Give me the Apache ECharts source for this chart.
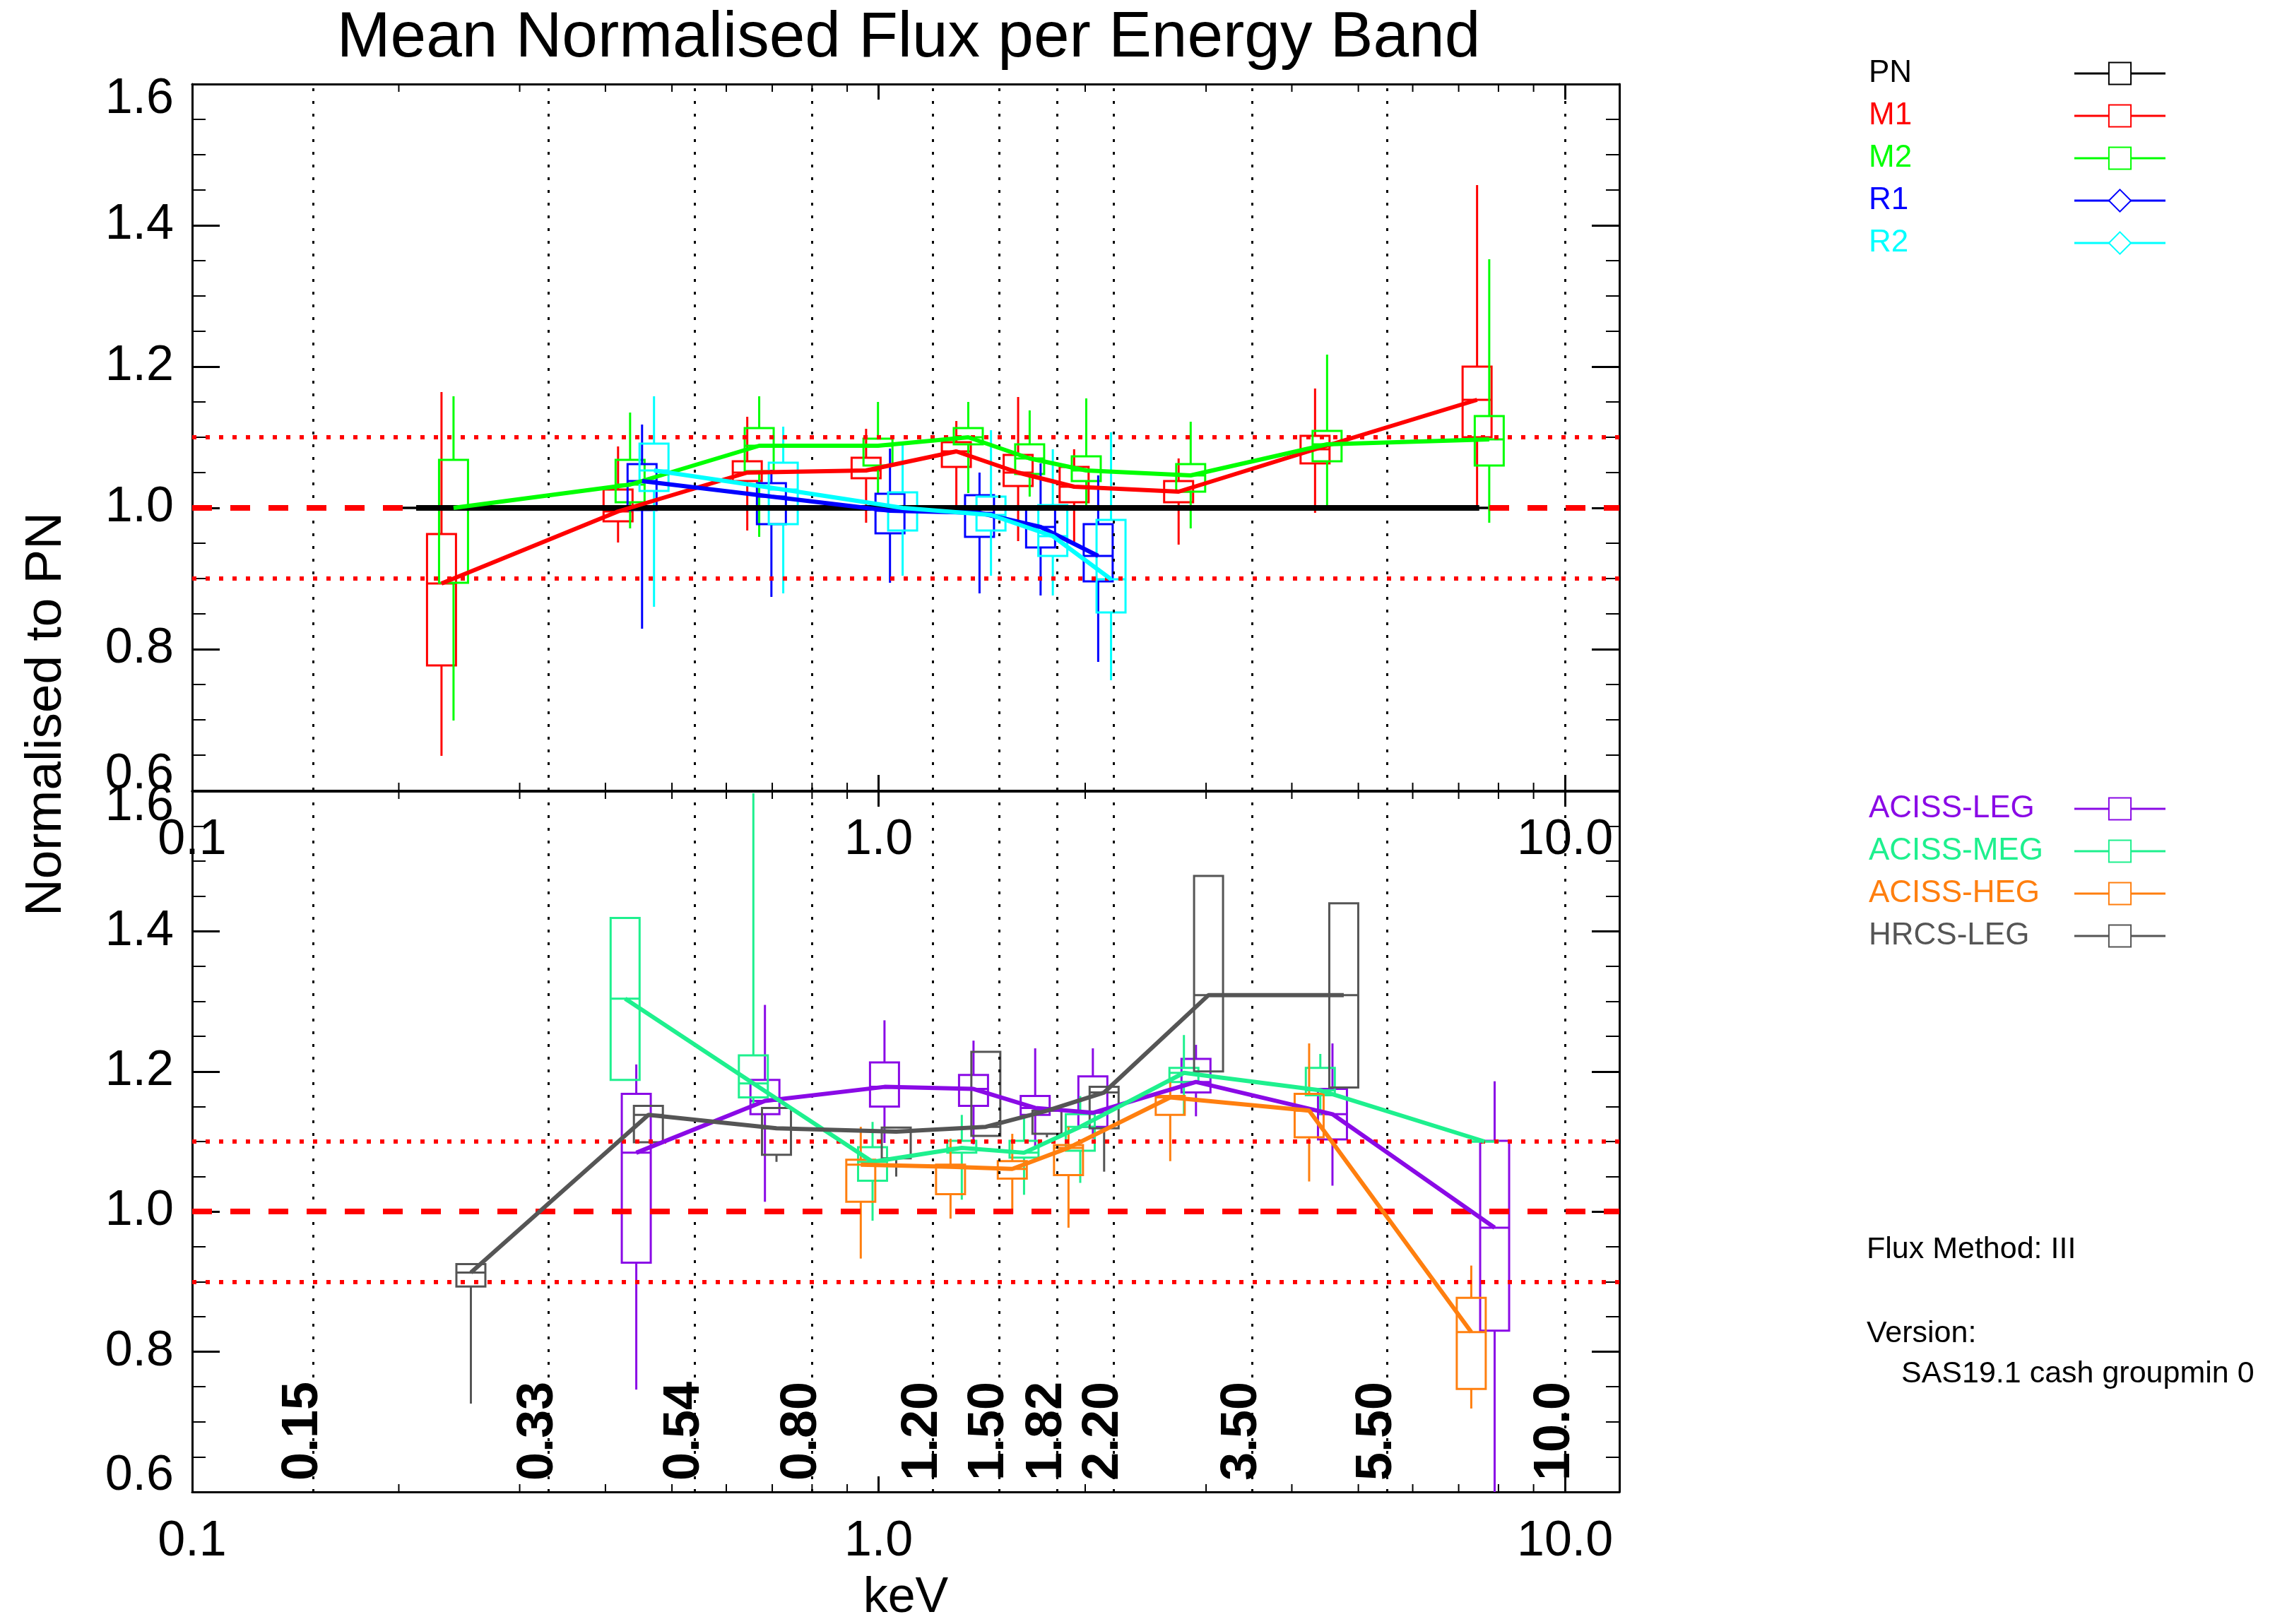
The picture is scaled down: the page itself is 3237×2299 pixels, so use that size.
<!DOCTYPE html>
<html><head><meta charset="utf-8">
<script src="https://cdn.jsdelivr.net/npm/echarts@6/dist/echarts.min.js"></script>
<style>html,body{margin:0;padding:0;background:#fff}#c{width:3237px;height:2299px}</style>
</head><body><div id="c"></div>
<script>
const FONT = '"Liberation Sans", Arial, Helvetica, sans-serif';

// ---- axis / band definitions ----
const bandEdges  = [0.15, 0.33, 0.54, 0.80, 1.20, 1.50, 1.82, 2.20, 3.50, 5.50, 10.0];
const bandLabels = ['0.15','0.33','0.54','0.80','1.20','1.50','1.82','2.20','3.50','5.50','10.0'];
const minorTicks = [0.2,0.3,0.4,0.5,0.6,0.7,0.8,0.9,2,3,4,5,6,7,8,9];
const refLevel = 1.0;
const tolLevels = [1.1, 0.9];

// ---- top panel (XMM) ----
const PN_x   = [0.212, 0.383, 0.591, 0.880, 1.192, 1.466, 1.769, 2.512, 3.970, 7.50];
const PN_med = [1.0, 1.0, 1.0, 1.0, 1.0, 1.0, 1.0, 1.0, 1.0, 1.0];

const M1_x   = [0.2308, 0.4173, 0.6437, 0.959, 1.298, 1.597, 1.927, 2.736, 4.324, 7.446];
const M1_lo  = [0.649, 0.951, 0.968, 0.979, 1.003, 0.953, 0.949, 0.948, 0.993, 1.000];
const M1_q1  = [0.777, 0.981, 1.038, 1.042, 1.058, 1.031, 1.008, 1.008, 1.063, 1.100];
const M1_med = [0.893, 0.995, 1.050, 1.053, 1.080, 1.050, 1.030, 1.023, 1.083, 1.153];
const M1_q3  = [0.963, 1.026, 1.066, 1.071, 1.093, 1.075, 1.058, 1.038, 1.102, 1.200];
const M1_hi  = [1.164, 1.087, 1.129, 1.112, 1.123, 1.157, 1.083, 1.070, 1.169, 1.457];

const M2_x   = [0.2403, 0.4345, 0.670, 0.998, 1.351, 1.660, 2.007, 2.849, 4.502, 7.756];
const M2_lo  = [0.699, 0.971, 0.959, 1.020, 1.021, 1.016, 0.996, 0.971, 1.003, 0.979];
const M2_q1  = [0.894, 1.008, 1.052, 1.060, 1.090, 1.048, 1.038, 1.023, 1.066, 1.060];
const M2_med = [1.000, 1.033, 1.088, 1.088, 1.100, 1.070, 1.053, 1.046, 1.090, 1.097];
const M2_q3  = [1.068, 1.068, 1.113, 1.098, 1.113, 1.090, 1.073, 1.062, 1.109, 1.130];
const M2_hi  = [1.158, 1.135, 1.158, 1.150, 1.150, 1.138, 1.155, 1.122, 1.217, 1.352];

const R1_x   = [0.4523, 0.698, 1.039, 1.403, 1.722, 2.089];
const R1_lo  = [0.829, 0.874, 0.894, 0.879, 0.876, 0.782];
const R1_q1  = [0.997, 0.977, 0.964, 0.959, 0.944, 0.896];
const R1_med = [1.038, 1.016, 0.996, 0.993, 0.973, 0.932];
const R1_q3  = [1.062, 1.035, 1.020, 1.018, 1.000, 0.977];
const R1_hi  = [1.118, 1.054, 1.084, 1.050, 1.063, 1.046];

const R2_x   = [0.4708, 0.7263, 1.084, 1.458, 1.794, 2.181];
const R2_lo  = [0.860, 0.879, 0.904, 0.904, 0.876, 0.756];
const R2_q1  = [1.024, 0.977, 0.968, 0.968, 0.932, 0.852];
const R2_med = [1.053, 1.026, 1.000, 0.990, 0.960, 0.899];
const R2_q3  = [1.091, 1.064, 1.022, 1.016, 1.004, 0.983];
const R2_hi  = [1.158, 1.115, 1.091, 1.110, 1.083, 1.107];

// ---- bottom panel (Chandra) ----
const LEG_x   = [0.4436, 0.683, 1.020, 1.375, 1.691, 2.052, 2.900, 4.584, 7.898];
const LEG_lo  = [0.746, 1.014, 1.098, 1.096, 1.091, 1.104, 1.136, 1.037, 0.600];
const LEG_q1  = [0.927, 1.139, 1.150, 1.151, 1.138, 1.121, 1.170, 1.103, 0.830];
const LEG_med = [1.084, 1.158, 1.178, 1.175, 1.148, 1.141, 1.185, 1.139, 0.977];
const LEG_q3  = [1.168, 1.188, 1.213, 1.195, 1.165, 1.193, 1.218, 1.175, 1.101];
const LEG_hi  = [1.210, 1.295, 1.273, 1.244, 1.233, 1.233, 1.238, 1.240, 1.186];

const MEG_x   = [0.4273, 0.657, 0.980, 1.322, 1.629, 1.967, 2.785, 4.401, 7.636];
const MEG_lo  = [1.188, 1.151, 0.987, 1.017, 1.024, 1.041, 1.138, 1.138, 1.100];
const MEG_q1  = [1.188, 1.163, 1.044, 1.084, 1.077, 1.087, 1.185, 1.166, 1.100];
const MEG_med = [1.304, 1.183, 1.071, 1.091, 1.084, 1.121, 1.198, 1.173, 1.100];
const MEG_q3  = [1.419, 1.223, 1.092, 1.101, 1.101, 1.139, 1.205, 1.205, 1.100];
const MEG_hi  = [1.419, 1.597, 1.128, 1.138, 1.138, 1.165, 1.252, 1.225, 1.100];

const HEG_x   = [0.942, 1.273, 1.566, 1.891, 2.660, 4.239, 7.302];
const HEG_lo  = [0.933, 0.990, 0.997, 0.977, 1.072, 1.043, 0.719];
const HEG_q1  = [1.014, 1.025, 1.047, 1.052, 1.138, 1.106, 0.747];
const HEG_med = [1.067, 1.064, 1.061, 1.091, 1.163, 1.144, 0.828];
const HEG_q3  = [1.074, 1.067, 1.072, 1.095, 1.165, 1.168, 0.877];
const HEG_hi  = [1.121, 1.104, 1.111, 1.121, 1.191, 1.240, 0.923];

const HRC_x   = [0.2547, 0.462, 0.710, 1.061, 1.433, 1.759, 2.131, 3.025, 4.761];
const HRC_lo  = [0.726, 1.099, 1.071, 1.050, 1.108, 1.106, 1.057, 1.200, 1.177];
const HRC_q1  = [0.893, 1.099, 1.081, 1.076, 1.108, 1.111, 1.119, 1.200, 1.177];
const HRC_med = [0.913, 1.138, 1.119, 1.114, 1.121, 1.144, 1.170, 1.309, 1.309];
const HRC_q3  = [0.925, 1.151, 1.148, 1.120, 1.228, 1.144, 1.178, 1.479, 1.440];
const HRC_hi  = [0.925, 1.151, 1.148, 1.120, 1.228, 1.144, 1.178, 1.479, 1.440];

const topNames  = ['PN', 'M1', 'M2', 'R1', 'R2'];
const topColors = ['#000000', '#ff0000', '#00ff00', '#0000ff', '#00ffff'];
const botNames  = ['ACISS-LEG', 'ACISS-MEG', 'ACISS-HEG', 'HRCS-LEG'];
const botColors = ['#8a0ae6', '#1ef08e', '#ff7f0f', '#555555'];

// ---------------------------------------------------------
function lineSeries(name, xs, meds, color, width, symbol, g) {
  return {
    type: 'line', name: name, xAxisIndex: 2 * g, yAxisIndex: 2 * g,
    data: xs.map((x, i) => [x, meds[i]]),
    symbol: symbol, symbolSize: 20, showSymbol: false, silent: true, animation: false,
    lineStyle: { color: color, width: width }, itemStyle: { color: color }, z: 5
  };
}
function boxSeries(name, xs, lo, q1, med, q3, hi, color, g) {
  return {
    type: 'custom', name: name + ' box', xAxisIndex: 2 * g, yAxisIndex: 2 * g,
    silent: true, animation: false, z: 4,
    data: xs.map((x, i) => [x, lo[i], q1[i], med[i], q3[i], hi[i]]),
    encode: { x: 0, y: [1, 2, 3, 4, 5] },
    renderItem: function (params, api) {
      const x = api.value(0);
      const pl = api.coord([x, api.value(1)]);
      const p1 = api.coord([x, api.value(2)]);
      const pm = api.coord([x, api.value(3)]);
      const p3 = api.coord([x, api.value(4)]);
      const ph = api.coord([x, api.value(5)]);
      const cx = pm[0], hw = 20.5;
      const st = { stroke: color, lineWidth: 3, fill: 'none' };
      return { type: 'group', children: [
        { type: 'line', shape: { x1: cx, y1: pl[1], x2: cx, y2: p1[1] }, style: st },
        { type: 'line', shape: { x1: cx, y1: p3[1], x2: cx, y2: ph[1] }, style: st },
        { type: 'rect', shape: { x: cx - hw, y: p3[1], width: 2 * hw, height: p1[1] - p3[1] }, style: st },
        { type: 'line', shape: { x1: cx - hw, y1: pm[1], x2: cx + hw, y2: pm[1] }, style: st }
      ]};
    }
  };
}
function refSeries(g) {
  const d = bandEdges.map(e => ({ xAxis: e, lineStyle: { color: '#000', width: 3, type: [4, 14] } }));
  d.push({ yAxis: refLevel, lineStyle: { color: '#ff0000', width: 8, type: [28, 26] } });
  tolLevels.forEach(t => d.push({ yAxis: t, lineStyle: { color: '#ff0000', width: 6, type: [6, 13] } }));
  return {
    type: 'line', name: 'refs' + g, xAxisIndex: 2 * g, yAxisIndex: 2 * g, data: [],
    silent: true, animation: false, z: 2,
    markLine: { silent: true, animation: false, symbol: ['none', 'none'], label: { show: false }, data: d }
  };
}
function minorTickSeries(g) {
  return {
    type: 'custom', name: 'minor' + g, xAxisIndex: 2 * g, yAxisIndex: 2 * g,
    silent: true, animation: false, z: 6,
    data: minorTicks.map(v => [v, 1]),
    renderItem: function (params, api) {
      const cs = params.coordSys;
      const x = api.coord([api.value(0), 1])[0];
      const b = cs.y + cs.height, t = cs.y;
      const st = { stroke: '#000', lineWidth: 2 };
      return { type: 'group', children: [
        { type: 'line', shape: { x1: x, y1: b, x2: x, y2: b - 11 }, style: st },
        { type: 'line', shape: { x1: x, y1: t, x2: x, y2: t + 11 }, style: st }
      ]};
    }
  };
}
function bandLabelSeries(g) {
  return {
    type: 'custom', name: 'bandlabels', xAxisIndex: 2 * g, yAxisIndex: 2 * g,
    silent: true, animation: false, z: 6,
    data: bandEdges.map(v => [v, 1]),
    renderItem: function (params, api) {
      const cs = params.coordSys;
      const x = api.coord([api.value(0), 1])[0];
      const b = cs.y + cs.height;
      return { type: 'text', x: x - 14, y: b - 16, rotation: Math.PI / 2,
        style: { text: bandLabels[params.dataIndex], fill: '#000', align: 'left', verticalAlign: 'middle',
          font: 'bold 72px ' + FONT } };
    }
  };
}
function xAx(g, pos, showLabel, name) {
  const a = {
    type: 'log', logBase: 10, gridIndex: g, position: pos, min: 0.1, max: 12,
    axisLine: { show: true, onZero: false, lineStyle: { color: '#000', width: 3 } },
    axisTick: { show: true, inside: true, length: 22, lineStyle: { color: '#000', width: 3 } },
    splitLine: { show: false }, minorTick: { show: false },
    axisLabel: { show: showLabel, margin: 36, fontSize: 70, color: '#000', fontFamily: FONT,
      formatter: function (v) { const l = Math.log10(v); return Math.abs(l - Math.round(l)) < 1e-6 ? Number(v).toFixed(1) : ''; } }
  };
  if (name) {
    a.name = name; a.nameLocation = 'middle'; a.nameGap = 116;
    a.nameTextStyle = { fontSize: 70, color: '#000', fontFamily: FONT };
  }
  return a;
}
function yAx(g, pos, showLabel) {
  return {
    type: 'value', gridIndex: g, position: pos, min: 0.6, max: 1.6, interval: 0.2,
    axisLine: { show: true, lineStyle: { color: '#000', width: 3 } },
    axisTick: { show: true, inside: true, length: 39, lineStyle: { color: '#000', width: 3 } },
    minorTick: { show: true, splitNumber: 4, length: 19, lineStyle: { color: '#000', width: 2 } },
    splitLine: { show: false }, minorSplitLine: { show: false },
    axisLabel: { show: showLabel, margin: 26, fontSize: 70, color: '#000', fontFamily: FONT,
      lineHeight: 44, verticalAlignMinLabel: 'bottom', verticalAlignMaxLabel: 'top',
      formatter: v => Number(v).toFixed(1) }
  };
}
function legendCfg(names, colors, top) {
  return {
    orient: 'vertical', left: 2640, top: top, itemWidth: 129, itemHeight: 39, itemGap: 16,
    align: 'right', selectedMode: false,
    data: names.map((n, i) => ({ name: n, textStyle: { color: colors[i] } })),
    formatter: n => '{a|' + n + '}',
    textStyle: { fontSize: 44, fontFamily: FONT, lineHeight: 39,
      rich: { a: { width: 286, align: 'left', fontSize: 44, fontFamily: FONT, lineHeight: 39 } } },
    lineStyle: { width: 3 }
  };
}

const series = [
  refSeries(0), refSeries(1), minorTickSeries(0), minorTickSeries(1), bandLabelSeries(1),
  lineSeries('PN', PN_x, PN_med, topColors[0], 8, 'emptyRect', 0),
  lineSeries('M1', M1_x, M1_med, topColors[1], 6, 'emptyRect', 0),
  lineSeries('M2', M2_x, M2_med, topColors[2], 6, 'emptyRect', 0),
  lineSeries('R1', R1_x, R1_med, topColors[3], 6, 'emptyDiamond', 0),
  lineSeries('R2', R2_x, R2_med, topColors[4], 6, 'emptyDiamond', 0),
  lineSeries('ACISS-LEG', LEG_x, LEG_med, botColors[0], 6, 'emptyRect', 1),
  lineSeries('ACISS-MEG', MEG_x, MEG_med, botColors[1], 6, 'emptyRect', 1),
  lineSeries('ACISS-HEG', HEG_x, HEG_med, botColors[2], 6, 'emptyRect', 1),
  lineSeries('HRCS-LEG', HRC_x, HRC_med, botColors[3], 6, 'emptyRect', 1),
  boxSeries('PN', PN_x, PN_med, PN_med, PN_med, PN_med, PN_med, topColors[0], 0),
  boxSeries('M1', M1_x, M1_lo, M1_q1, M1_med, M1_q3, M1_hi, topColors[1], 0),
  boxSeries('M2', M2_x, M2_lo, M2_q1, M2_med, M2_q3, M2_hi, topColors[2], 0),
  boxSeries('R1', R1_x, R1_lo, R1_q1, R1_med, R1_q3, R1_hi, topColors[3], 0),
  boxSeries('R2', R2_x, R2_lo, R2_q1, R2_med, R2_q3, R2_hi, topColors[4], 0),
  boxSeries('LEG', LEG_x, LEG_lo, LEG_q1, LEG_med, LEG_q3, LEG_hi, botColors[0], 1),
  boxSeries('MEG', MEG_x, MEG_lo, MEG_q1, MEG_med, MEG_q3, MEG_hi, botColors[1], 1),
  boxSeries('HEG', HEG_x, HEG_lo, HEG_q1, HEG_med, HEG_q3, HEG_hi, botColors[2], 1),
  boxSeries('HRC', HRC_x, HRC_lo, HRC_q1, HRC_med, HRC_q3, HRC_hi, botColors[3], 1)
];

const chart = echarts.init(document.getElementById('c'), null, { renderer: 'canvas' });
chart.setOption({
  backgroundColor: '#ffffff',
  animation: false,
  title: { text: 'Mean Normalised Flux per Energy Band', left: 1281, top: 4, textAlign: 'center',
    textStyle: { fontSize: 91, fontWeight: 'normal', color: '#000', fontFamily: FONT } },
  grid: [
    { left: 272, top: 119, width: 2020, height: 1000 },
    { left: 272, top: 1120, width: 2020, height: 1000 }
  ],
  xAxis: [ xAx(0, 'bottom', true), xAx(0, 'top', false), xAx(1, 'bottom', true, 'keV'), xAx(1, 'top', false) ],
  yAxis: [ yAx(0, 'left', true), yAx(0, 'right', false), yAx(1, 'left', true), yAx(1, 'right', false) ],
  legend: [ legendCfg(topNames, topColors, 77), legendCfg(botNames, botColors, 1118) ],
  graphic: [
    { type: 'text', x: 66, y: 1011, rotation: Math.PI / 2,
      style: { text: 'Normalised to PN', fill: '#000', align: 'center', verticalAlign: 'middle', font: '73px ' + FONT } },
    { type: 'text', x: 2642, y: 1769, style: { text: 'Flux Method: III', fill: '#000', verticalAlign: 'middle', font: '43px ' + FONT } },
    { type: 'text', x: 2642, y: 1888, style: { text: 'Version:', fill: '#000', verticalAlign: 'middle', font: '43px ' + FONT } },
    { type: 'text', x: 2691, y: 1945, style: { text: 'SAS19.1 cash groupmin 0', fill: '#000', verticalAlign: 'middle', font: '43px ' + FONT } }
  ],
  series: series
});
</script>
</body></html>
